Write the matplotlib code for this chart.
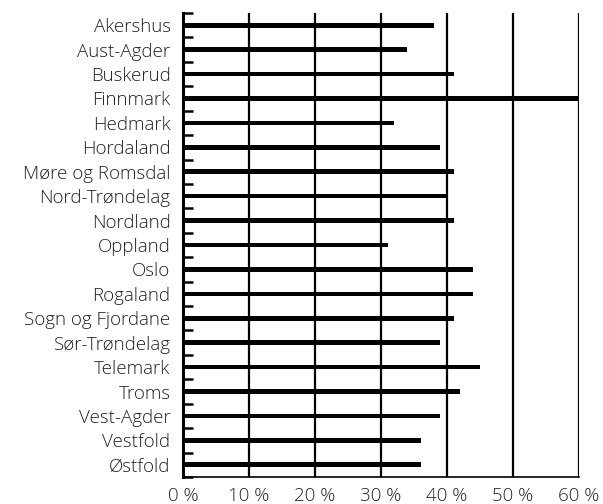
import matplotlib
matplotlib.use("Agg")
import matplotlib.pyplot as plt
import numpy as np

# fylker og andel (%)
counties = ["Akershus", "Aust-Agder", "Buskerud", "Finnmark", "Hedmark",
            "Hordaland", "Møre og Romsdal", "Nord-Trøndelag", "Nordland",
            "Oppland", "Oslo", "Rogaland", "Sogn og Fjordane", "Sør-Trøndelag",
            "Telemark", "Troms", "Vest-Agder", "Vestfold", "Østfold"]
values = [38, 34, 41, 60, 32, 39, 41, 40, 41, 31, 44, 44, 41, 39, 45, 42, 39, 36, 36]
xticks = [0, 10, 20, 30, 40, 50, 60]
xticklabels = ["0 %", "10 %", "20 %", "30 %", "40 %", "50 %", "60 %"]

plt.rcParams['font.family'] = ['Open Sans', 'DejaVu Sans']

fig = plt.figure(figsize=(6.03, 5.04), dpi=100)
ax = fig.add_axes([183 / 603, 1 - 477 / 504, (579 - 183) / 603, (477 - 13) / 504])

n = len(counties)
ypos = np.arange(n)

# vertical grid lines
for x in xticks[1:]:
    ax.axvline(x, color="black", linewidth=1.6, zorder=1)

ax.barh(ypos, values, height=0.19, color="black", zorder=2)

ax.set_xlim(0, 60)
ax.set_ylim(n - 0.5, -0.5)

ax.set_xticks(xticks)
ax.set_xticklabels(xticklabels, fontsize=13.5, color="#222222", fontweight="light")
ax.set_yticks(ypos)
ax.set_yticklabels(counties, fontsize=13.5, color="#222222", fontweight="light")
ax.set_yticks(np.arange(-0.5, n, 1.0), minor=True)

ax.tick_params(axis="x", length=0, pad=7)
ax.tick_params(axis="y", which="major", length=0, pad=9)
ax.tick_params(axis="y", which="minor", direction="in", length=7, width=1.8, color="black")

for side in ["top", "right"]:
    ax.spines[side].set_visible(False)
ax.spines["left"].set_linewidth(2.2)
ax.spines["bottom"].set_linewidth(1.2)

fig.savefig("out.png", dpi=100)
